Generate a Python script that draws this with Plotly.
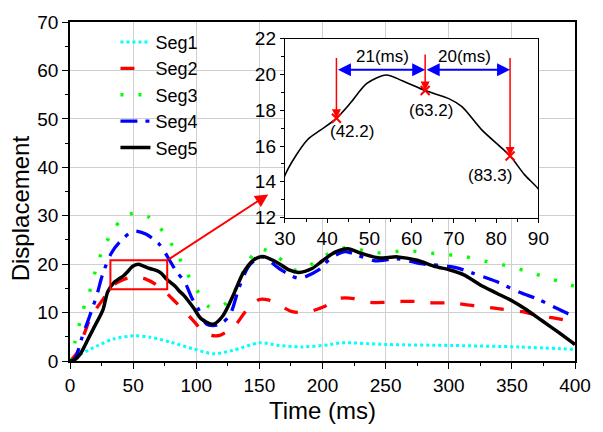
import plotly.graph_objects as go

# ---------------- data ----------------
t1 = [0, 9.2, 22.1, 35.2, 50.9, 63.9, 79.6, 97.8, 113.5, 129.1, 150, 165.6, 183.9, 204.8, 215.2, 251.7, 303.8, 356, 400]
seg1 = [0, 1.5, 3.2, 4.6, 5.2, 4.9, 3.9, 2.5, 1.5, 2.2, 3.75, 3.2, 2.9, 3.35, 3.75, 3.4, 3.2, 2.9, 2.4]

t2 = [0, 5.2, 11.7, 15.6, 20, 26.1, 35, 48, 54, 60, 68, 75.7, 83.5, 90, 97.8, 105, 112, 118.7, 124, 130.4,
      140, 150, 157, 164, 176, 188, 201, 213, 225, 238, 250, 263, 274, 287, 299, 312, 323, 336, 358, 372, 385, 400]
seg2 = [0, 1.5, 5.9, 8.6, 10.5, 12.7, 15.8, 17.3, 17.2, 16.9, 15.8, 14.2, 12.2, 10.5, 8.3, 6.2, 5.3, 5.3, 6.0, 7.2,
        10.5, 12.7, 12.6, 11.8, 10.2, 10.1, 11.2, 12.9, 12.9, 12.1, 12.1, 12.3, 12.3, 12.0, 12.0, 11.7, 11.3, 10.9, 10.2, 9.3, 8.8, 8.1]

t3 = [0, 3.9, 7.8, 11.7, 17, 20.9, 26, 33.9, 40, 47, 55, 61.3, 68, 74.3, 83.5, 91.3, 100.4, 109.5, 116, 123.9,
      133, 139.5, 150, 164.3, 178.6, 190, 207.4, 222, 237.3, 251.7, 266, 281.7, 296, 310.4, 324.7, 340.4, 349.5, 363.8, 379, 393.8, 400]
seg3 = [0, 3.9, 8.0, 11.7, 15.4, 19.4, 23.0, 26.9, 29.0, 30.3, 30.5, 29.9, 28.5, 26.5, 22.8, 18.8, 14.7, 11.3, 11.0, 12.0,
        15.7, 19.8, 23.2, 21.5, 18.8, 19.8, 22.5, 23.5, 22.4, 22.4, 22.8, 22.4, 22.0, 21.7, 20.8, 20.0, 19.4, 18.4, 17.1, 15.9, 15.4]

t4 = [0, 3, 5.2, 9.2, 15.6, 20.9, 26.1, 32.6, 39.1, 50, 60, 70.4, 75.7, 83.5, 91.3, 96.5, 101.7, 108.2, 113.5, 120,
      126.5, 134.3, 142.2, 152.6, 165.6, 181.3, 197, 206, 217.8, 228.2, 241.2, 259.5, 277.8, 303.9, 319.5, 337.8,
      356, 370.4, 382.1, 392.6, 400]
seg4 = [0, 0.2, 1.2, 4.6, 9.3, 13.3, 18.1, 22.2, 24.5, 26.8, 26.2, 24.2, 22.2, 18.8, 16.1, 13.0, 10.7, 7.6, 7.3, 7.8,
        9.4, 15.4, 19.8, 21.5, 19.1, 17.1, 18.8, 21.1, 22.6, 21.8, 20.7, 21.1, 20.1, 19.4, 18.1, 16.4,
        14.2, 12.8, 11.3, 10.0, 9.0]

t5 = [0, 4, 8, 12, 16, 20, 26, 30, 35.4, 38.5, 42.2, 45.5, 49.4, 54, 57.8, 63.2, 68.8, 71.9, 76.6, 83.3, 86.7, 90,
      97.8, 104, 113.5, 121, 129, 137, 145, 152.6, 163, 173.5, 181.3, 191.7, 200, 210, 220, 231, 244, 259.5, 275,
      288, 301, 312, 325, 338, 351, 361, 374, 387, 400]
seg5 = [0, 0.3, 1.4, 3.3, 5.4, 7.4, 10.5, 14.35, 16.36, 16.9, 17.55, 18.4, 19.5, 19.97, 19.65, 19.1, 18.65, 18.2, 16.9, 15.44, 14.4, 13.6,
        11, 8.7, 7.6, 9.3, 13.4, 18.1, 20.8, 21.6, 20.5, 18.8, 18.3, 19.1, 20.7, 22.5, 23.2, 22.2, 21.3, 21.5, 20.8,
        19.6, 18.8, 17.8, 15.7, 14.0, 12.3, 10.7, 8.3, 5.9, 3.4]

marker_times = [42.2, 63.2, 83.3]
marker_labels = ["(42.2)", "(63.2)", "(83.3)"]
interval_labels = ["21(ms)", "20(ms)"]

names = ["Seg1", "Seg2", "Seg3", "Seg4", "Seg5"]
FONT = "Arial, Liberation Sans, sans-serif"

fig = go.Figure()

styles = [
    dict(color="#00FFFF", width=3, dash="dot"),
    dict(color="#FF0000", width=3.3, dash="14px,16px"),
    dict(color="#00FF00", width=3.4, dash="3px,15px"),
    dict(color="#0000FF", width=3.3, dash="17px,8px,4px,9px"),
    dict(color="#000000", width=3.5, dash="solid"),
]
series = [(t1, seg1), (t2, seg2), (t3, seg3), (t4, seg4), (t5, seg5)]
for name, (tx, ty), st in zip(names, series, styles):
    fig.add_trace(go.Scatter(x=tx, y=ty, mode="lines", name=name,
                             line=dict(shape="spline", smoothing=0.8, **st)))

# inset: Seg5 zoomed
fig.add_trace(go.Scatter(x=t5, y=seg5, mode="lines", xaxis="x2", yaxis="y2", showlegend=False,
                         line=dict(color="black", width=1.6, shape="spline", smoothing=0.8)))
lookup = dict(zip(t5, seg5))
marker_y = [lookup[t] for t in marker_times]
fig.add_trace(go.Scatter(x=marker_times, y=marker_y, mode="markers", xaxis="x2", yaxis="y2", showlegend=False,
                         marker=dict(symbol="x-thin", size=9, line=dict(color="red", width=2))))

axis_common = dict(showline=True, linecolor="black", linewidth=1.5, mirror=True,
                   ticks="outside", ticklen=6, tickwidth=1.2, tickcolor="black",
                   tickfont=dict(size=19, color="black", family=FONT), zeroline=False)

fig.update_layout(
    width=603, height=432,
    margin=dict(l=70, r=23, t=17, b=70),
    paper_bgcolor="white", plot_bgcolor="white",
    font=dict(family=FONT, color="black"),
    xaxis=dict(domain=[0, 1], range=[0, 400], tick0=0, dtick=50, showgrid=True, gridcolor="#cfcfcf", gridwidth=1,
               minor=dict(dtick=25, ticks="outside", ticklen=3, tickcolor="black", showgrid=False),
               title=dict(text="Time (ms)", font=dict(size=24, family=FONT), standoff=8), **axis_common),
    yaxis=dict(domain=[0, 1], range=[0, 70], tick0=0, dtick=10, showgrid=True, gridcolor="#cfcfcf", gridwidth=1,
               minor=dict(dtick=5, ticks="outside", ticklen=3, tickcolor="black", showgrid=False),
               **axis_common),
    xaxis3=dict(overlaying="x", anchor="y", side="top", range=[0, 400], tick0=0, dtick=50, showticklabels=False,
                showgrid=False, showline=False, zeroline=False, ticks="inside", ticklen=5, tickcolor="black",
                minor=dict(dtick=25, ticks="inside", ticklen=3, tickcolor="black")),
    yaxis3=dict(overlaying="y", anchor="x", side="right", range=[0, 70], tick0=0, dtick=10, showticklabels=False,
                showgrid=False, showline=False, zeroline=False, ticks="inside", ticklen=5, tickcolor="black",
                minor=dict(dtick=5, ticks="inside", ticklen=3, tickcolor="black")),
    xaxis2=dict(domain=[0.4255, 0.9275], anchor="y2", range=[30, 90], tick0=30, dtick=10, showgrid=False,
                minor=dict(dtick=5, ticks="outside", ticklen=3, tickcolor="black"),
                **{**axis_common, "linewidth": 1.2, "ticklen": 4}),
    yaxis2=dict(domain=[0.4232, 0.9507], anchor="x2", range=[12, 22], tick0=12, dtick=2, showgrid=False,
                minor=dict(dtick=1, ticks="outside", ticklen=3, tickcolor="black"),
                **{**axis_common, "linewidth": 1.2, "ticklen": 4}),
    legend=dict(x=0.09, y=0.995, xanchor="left", yanchor="top", bgcolor="rgba(0,0,0,0)",
                font=dict(size=18, family=FONT, color="black"), tracegroupgap=0),
    showlegend=True,
)

# inset grey background
fig.add_shape(type="rect", xref="x2 domain", yref="y2 domain", x0=0, x1=1, y0=0, y1=1,
              fillcolor="#e6e6e6", line=dict(width=0), layer="below")
# zoom rectangle on main plot
fig.add_shape(type="rect", xref="x", yref="y", x0=32, x1=77, y0=14.8, y1=20.8,
              line=dict(color="red", width=2), fillcolor="rgba(0,0,0,0)")

ann = []
# y-axis title (positioned like the original, slightly below centre)
ann.append(dict(x=-0.098, y=0.449, xref="paper", yref="paper", xanchor="center", yanchor="middle",
                text="Displacement", textangle=-90,
                showarrow=False, font=dict(size=24, family=FONT, color="black")))
# arrow from rectangle to inset
ann.append(dict(x=157, y=34.4, ax=77, ay=20.8, xref="x", yref="y", axref="x", ayref="y", text="",
                showarrow=True, arrowhead=2, arrowsize=1.3, arrowwidth=2, arrowcolor="red"))
# red vertical arrows
tops = [21.0, 21.2, 21.0]
for t, yv, top in zip(marker_times, marker_y, tops):
    ann.append(dict(x=t, y=yv, ax=t, ay=top, xref="x2", yref="y2", axref="x2", ayref="y2", text="",
                    showarrow=True, arrowhead=2, arrowsize=1.2, arrowwidth=1.5, arrowcolor="red"))
label_pos = [(45.9, 16.82), (64.5, 17.97), (78.6, 14.35)]
for (lx, ly), lab in zip(label_pos, marker_labels):
    ann.append(dict(x=lx, y=ly, xref="x2", yref="y2", text=lab, showarrow=False,
                    font=dict(size=17, family=FONT, color="black")))
# blue double arrows
for (a, b) in [(marker_times[0], marker_times[1]), (marker_times[1], marker_times[2])]:
    ann.append(dict(x=b, y=20.26, ax=a, ay=20.26, xref="x2", yref="y2", axref="x2", ayref="y2", text="",
                    showarrow=True, arrowhead=2, arrowside="end+start", arrowsize=1.3, arrowwidth=2,
                    arrowcolor="blue"))
for (lx, lab) in zip([53.2, 72.6], interval_labels):
    ann.append(dict(x=lx, y=21.0, xref="x2", yref="y2", text=lab, showarrow=False,
                    font=dict(size=17, family=FONT, color="black")))
fig.update_layout(annotations=ann)

fig.write_html("out.html")
